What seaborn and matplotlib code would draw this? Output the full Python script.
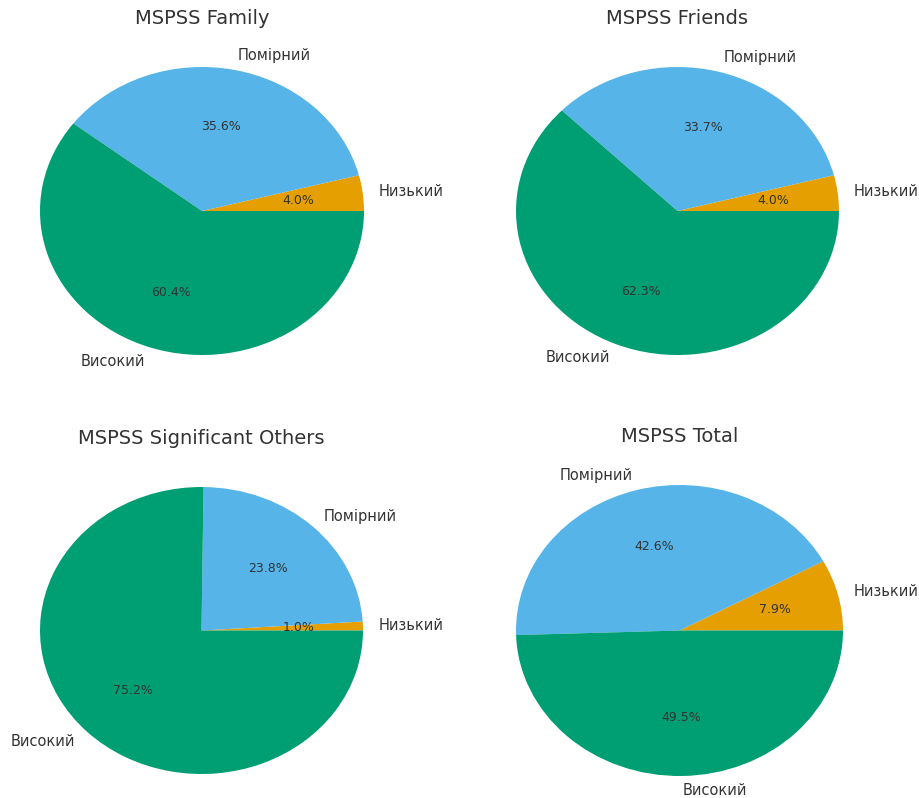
import matplotlib
matplotlib.use("Agg")
import matplotlib.pyplot as plt
import seaborn as sns

sns.set_theme(style="white")
plt.rcParams['font.family'] = ['DejaVu Sans']

categories = ["Низький", "Помірний", "Високий"]
family = [4.0, 35.6, 60.4]
friends = [4.0, 33.7, 62.3]
significant_others = [1.0, 23.8, 75.2]
total = [7.9, 42.6, 49.5]
titles = ["MSPSS Family", "MSPSS Friends", "MSPSS Significant Others", "MSPSS Total"]

# Okabe-Ito orange, sky blue, bluish green
slice_colors = ["#E69F00", "#56B4E9", "#009E73"]

W, H = 919, 798
fig = plt.figure(figsize=(W / 100, H / 100), dpi=100)

# pie boxes in pixels: left, right, top, bottom
boxes = [
    (40, 364, 67, 355),
    (516, 839, 67, 355),
    (40, 363, 487, 774),
    (516, 843, 485, 776),
]
datasets = [family, friends, significant_others, total]

for (l, r, t, b), values, title in zip(boxes, datasets, titles):
    ax = fig.add_axes([l / W, (H - b) / H, (r - l) / W, (b - t) / H])
    wedges, texts, autotexts = ax.pie(
        values,
        labels=categories,
        colors=slice_colors,
        autopct="%1.1f%%",
        wedgeprops={"linewidth": 0, "edgecolor": "none"},
        textprops={"fontsize": 10.5, "color": "#333333"},
    )
    for at in autotexts:
        at.set_fontsize(9)
    ax.set_aspect("auto")
    ax.set_xlim(-1, 1)
    ax.set_ylim(-1, 1)
    ax.set_title(title, fontsize=14, color="#333333", pad=0,
                 y=1 + 49 / (b - t), va="center")

fig.savefig("out.png", dpi=100)
